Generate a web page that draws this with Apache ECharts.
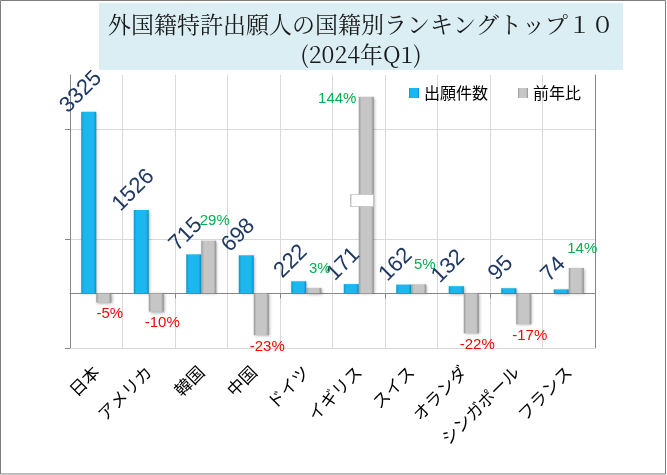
<!DOCTYPE html>
<html>

<head>
    <meta charset="utf-8">
    <script type="text/javascript" src="https://cdn.jsdelivr.net/npm/echarts@6/dist/echarts.min.js"></script>
    <title>外国籍特許出願人の国籍別ランキング</title>
    <style>
        html, body { margin: 0; padding: 0; background: #fff; }
    </style>
</head>

<body>
    <div id="container" style="width:667px;height:475px;"></div>
    <script type="text/javascript">
    // データ
    var categories = ['日本', 'アメリカ', '韓国', '中国', 'ドイツ', 'イギリス', 'スイス', 'オランダ', 'シンガポール', 'フランス'];
    var applications = [3325, 1526, 715, 698, 222, 171, 162, 132, 95, 74];
    var yoyRatio = [-5, -10, 29, -23, 3, 144, 5, -22, -17, 14];

    // 前年比の棒は途中で省略して描く（軸の上限を超えるもの）
    var RATIO_CAP = 108;
    var RATIO_BREAK_AT = 51;

    var myChart = echarts.init(document.getElementById('container'));

    var sansFont = '"Liberation Sans", Arial, "Noto Sans CJK JP", sans-serif';
    var jpFont = '"Noto Sans CJK JP", sans-serif';
    var serifFont = '"Noto Serif CJK JP", "Liberation Serif", "DejaVu Serif", "Noto Sans CJK JP", serif';

    var blueFill = new echarts.graphic.LinearGradient(0, 0, 1, 0, [
        { offset: 0, color: '#0c98cf' },
        { offset: 0.18, color: '#1ab8ef' },
        { offset: 0.82, color: '#1ab8ef' },
        { offset: 1, color: '#0b8bc2' }
    ]);
    var grayFill = new echarts.graphic.LinearGradient(0, 0, 1, 0, [
        { offset: 0, color: '#9a9a9a' },
        { offset: 0.18, color: '#c6c6c6' },
        { offset: 0.82, color: '#c6c6c6' },
        { offset: 1, color: '#8e8e8e' }
    ]);

    // 前年比：上限で切る、ラベルは実際の値
    var ratioData = yoyRatio.map(function (v) {
        var item = {
            value: Math.min(v, RATIO_CAP),
            label: {
                position: v < 0 ? 'bottom' : 'top',
                distance: v < 0 ? 4 : 12,
                color: v < 0 ? '#FF0000' : '#00B050'
            }
        };
        if (v > RATIO_CAP) {
            item.label.distance = 0;
            item.label.offset = [-29, 10];
        }
        return item;
    });

    var gridColor = '#D9D9D9';

    var option = {
        backgroundColor: '#ffffff',
        animation: false,

        graphic: [{
            type: 'rect',
            shape: { x: 0.5, y: 0.5, width: 665, height: 473.5 },
            style: { fill: 'none', stroke: '#7f7f7f', lineWidth: 1 },
            silent: true
        }, {
            type: 'rect',
            shape: { x: 99, y: 3, width: 524, height: 67 },
            style: { fill: '#DAEEF3' },
            silent: true
        }, {
            type: 'text',
            x: 361,
            y: 9,
            style: {
                text: '外国籍特許出願人の国籍別ランキングトップ１０\n(2024年Q1)',
                font: '23px ' + serifFont,
                lineHeight: 30,
                fill: '#1a1a1a',
                textAlign: 'center'
            },
            silent: true
        }],

        legend: {
            left: 404,
            top: 80,
            itemGap: 30,
            itemWidth: 10,
            itemHeight: 10,
            icon: 'rect',
            textStyle: { fontSize: 16, fontFamily: jpFont, color: '#000' },
            data: ['出願件数', '前年比']
        },

        grid: {
            left: 70,
            right: 72,
            top: 75,
            bottom: 127
        },

        xAxis: [{
            // 下側：カテゴリ名と縦の目盛線
            type: 'category',
            data: categories,
            position: 'bottom',
            axisLine: { onZero: false, lineStyle: { color: gridColor } },
            axisTick: { show: false },
            splitLine: { show: true, lineStyle: { color: gridColor } },
            axisLabel: {
                rotate: 45,
                margin: 21,
                fontSize: 17,
                color: '#000',
                fontFamily: jpFont
            }
        }, {
            // ゼロの線
            type: 'category',
            data: categories,
            position: 'bottom',
            axisLine: { onZero: true, onZeroAxisIndex: 0, lineStyle: { color: '#868686' } },
            axisTick: { show: true, length: 5, inside: false, lineStyle: { color: '#868686' } },
            axisLabel: { show: false },
            splitLine: { show: false }
        }],

        yAxis: [{
            type: 'value',
            min: -1000,
            max: 4000,
            interval: 2000,
            axisLine: { show: true, lineStyle: { color: '#868686' } },
            axisTick: { show: true, length: 5, customValues: [-1000, 1000, 3000], lineStyle: { color: '#868686' } },
            axisLabel: { show: false },
            // 上端（4000）の線は描かない
            splitLine: { show: true, lineStyle: { color: [gridColor, gridColor, gridColor, 'rgba(0,0,0,0)'] } }
        }, {
            type: 'value',
            min: -30,
            max: 120,
            interval: 30,
            position: 'right',
            axisLine: { show: true, lineStyle: { color: '#868686' } },
            axisTick: { show: false },
            axisLabel: { show: false },
            splitLine: { show: false }
        }],

        series: [{
            name: '出願件数',
            type: 'bar',
            xAxisIndex: 0,
            yAxisIndex: 0,
            barWidth: 15,
            barGap: '0%',
            data: applications,
            itemStyle: {
                color: blueFill,
                shadowColor: 'rgba(0,0,0,0.35)',
                shadowBlur: 3,
                shadowOffsetX: 1,
                shadowOffsetY: 1
            },
            label: {
                show: true,
                position: 'top',
                distance: 12,
                rotate: 45,
                fontSize: 22,
                fontFamily: sansFont,
                color: '#1F3864'
            }
        }, {
            name: '前年比',
            type: 'bar',
            xAxisIndex: 0,
            yAxisIndex: 1,
            barWidth: 15,
            barGap: '0%',
            data: ratioData,
            itemStyle: {
                color: grayFill,
                shadowColor: 'rgba(0,0,0,0.35)',
                shadowBlur: 3,
                shadowOffsetX: 1,
                shadowOffsetY: 1
            },
            label: {
                show: true,
                fontSize: 15,
                fontFamily: sansFont,
                offset: [6, 0],
                formatter: function (p) {
                    return yoyRatio[p.dataIndex] + '%';
                }
            },
            markPoint: {
                silent: true,
                data: yoyRatio.map(function (v, i) {
                    return v > RATIO_CAP ? { coord: [categories[i], RATIO_BREAK_AT] } : null;
                }).filter(function (d) { return d; }),
                symbol: 'rect',
                symbolSize: [23, 12],
                symbolOffset: [-4, 0],
                itemStyle: { color: '#ffffff', borderColor: '#BFBFBF', borderWidth: 1 },
                label: { show: false }
            }
        }]
    };

    myChart.setOption(option);
    </script>
</body>

</html>
